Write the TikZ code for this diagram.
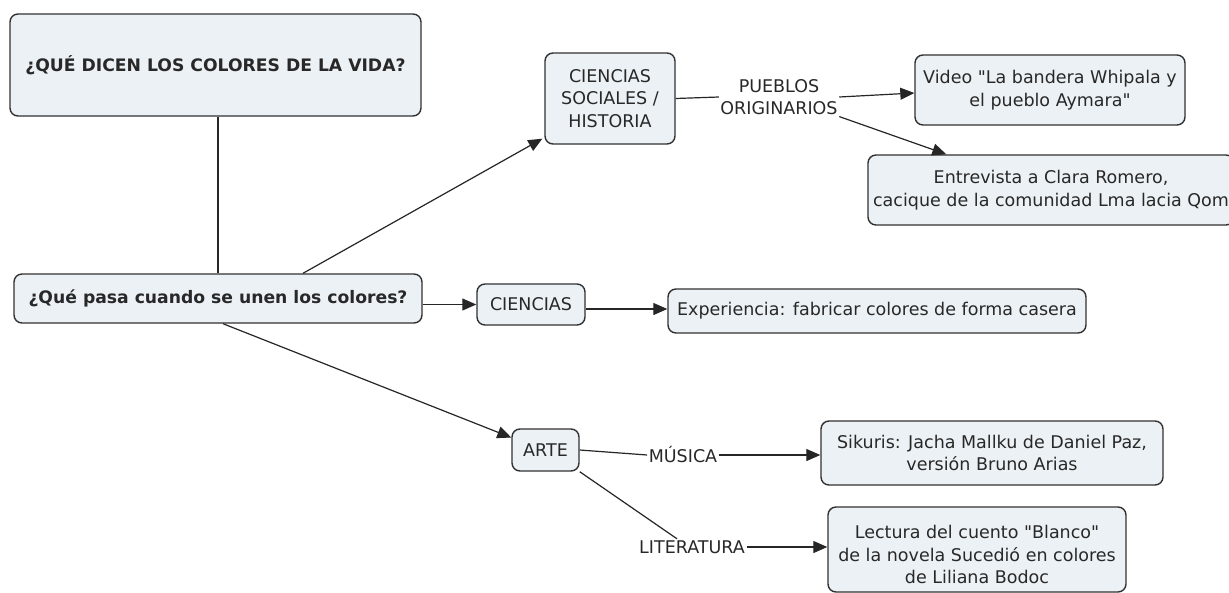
\documentclass[tikz,border=0pt]{standalone}
\usepackage{fontspec}
\setmainfont{DejaVu Sans}
\usetikzlibrary{arrows.meta}
\definecolor{boxfill}{RGB}{235,241,245}
\definecolor{boxline}{RGB}{50,50,50}
\definecolor{txt}{RGB}{40,40,40}
\begin{document}
\begin{tikzpicture}[x=1pt,y=-1pt,
  box/.style={draw=boxline, line width=1.4pt, fill=boxfill, rounded corners=8pt,
    align=center, font=\fontsize{17.5}{22.5}\selectfont, text=txt, inner sep=0pt},
  bbox/.style={box, font=\bfseries\fontsize{17.2}{22}\selectfont},
  lbl/.style={align=center, font=\fontsize{17.5}{22.5}\selectfont, text=txt, inner sep=1.5pt},
  con/.style={draw=black!85, line width=1.2pt},
  arr/.style={con, -{Triangle[length=14pt,width=12pt]}}]
\useasboundingbox (0,0) rectangle (1229,592);
\fill[white] (0,0) rectangle (1229,592);

% boxes
\node[bbox, minimum width=411pt, minimum height=102pt] (title) at (215.5,65) {¿QUÉ DICEN LOS COLORES DE LA VIDA?};
\node[bbox, minimum width=408pt, minimum height=49pt] (main) at (218,298.5) {¿Qué pasa cuando se unen los colores?};
\node[box, minimum width=130pt, minimum height=91pt] (cs) at (610,98.5) {CIENCIAS\\SOCIALES /\\HISTORIA};
\node[box, minimum width=270pt, minimum height=70pt] (video) at (1050,90) {Video \textquotedbl La bandera Whipala y\\el pueblo Aymara\textquotedbl};
\node[box, minimum width=366pt, minimum height=70pt] (entre) at (1051,190) {Entrevista a Clara Romero,\\cacique de la comunidad Lma lacia Qom};
\node[box, minimum width=108pt, minimum height=41pt] (cien) at (531,304.5) {CIENCIAS};
\node[box, minimum width=418pt, minimum height=44pt] (exp) at (877,311) {Experiencia: fabricar colores de forma casera};
\node[box, minimum width=67pt, minimum height=42pt] (arte) at (545.5,450) {ARTE};
\node[box, minimum width=342pt, minimum height=64pt] (sik) at (992,453) {Sikuris: Jacha Mallku de Daniel Paz,\\versión Bruno Arias};
\node[box, minimum width=298pt, minimum height=85pt] (lect) at (977,549.5) {\rule{0pt}{24pt}Lectura del cuento \textquotedbl Blanco\textquotedbl\\de la novela Sucedió en colores\\de Liliana Bodoc};

% linking labels
\node[lbl] (pueb) at (779,97) {PUEBLOS\\ORIGINARIOS};
\node[lbl] (mus) at (683,455) {MÚSICA};
\node[lbl] (lit) at (692,547) {LITERATURA};

% connectors
\draw[con] (main.north |- title.south) -- (main.north);
\draw[arr] ([xshift=85pt]main.north) -- ([xshift=-2pt,yshift=6pt]cs.south west);
\draw[arr] (main.east |- cien.west) -- (cien.west);
\draw[arr] ([yshift=2pt]cien.east |- exp.west) -- ([yshift=2pt]exp.west);
\draw[arr] ([xshift=5pt]main.south) -- (arte.160);
\draw[con] (cs.east) -- (pueb.west);
\draw[arr] (pueb.east) -- ([yshift=-3pt]video.west);
\draw[arr] (pueb.south east) -- ([xshift=79pt]entre.north west);
\draw[con] (arte.east) -- (mus.west);
\draw[arr] (mus.east) -- (sik.west |- mus.east);
\draw[con] (arte.south east) -- ([xshift=-15pt]lit.north);
\draw[arr] (lit.east) -- (lect.west |- lit.east);
\end{tikzpicture}
\end{document}
